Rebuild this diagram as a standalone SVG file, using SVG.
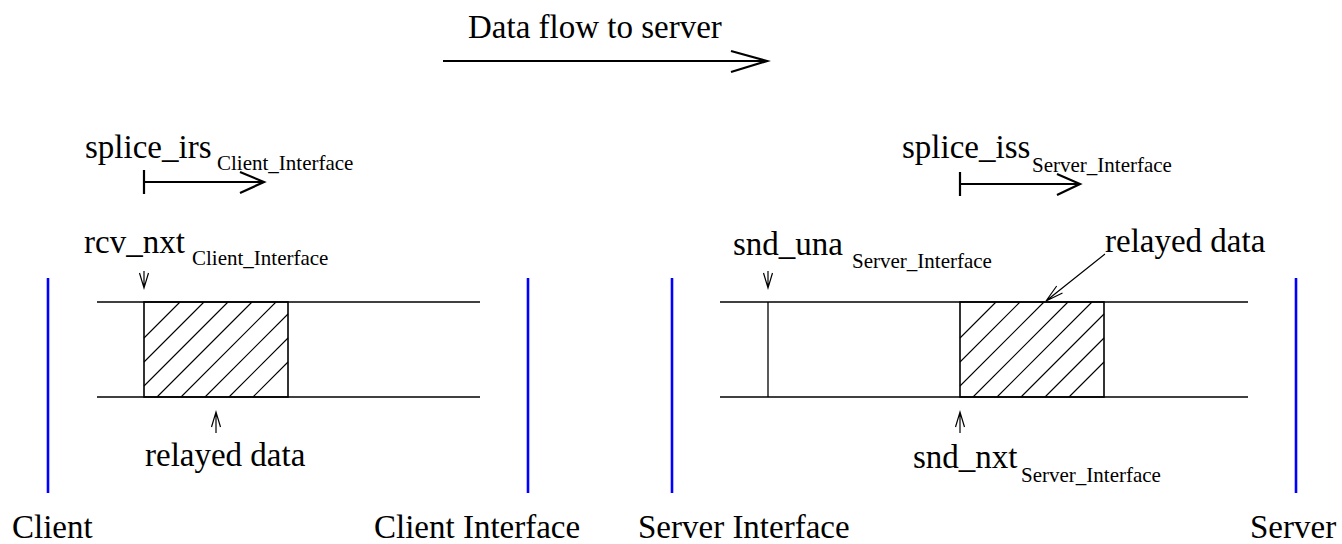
<svg xmlns="http://www.w3.org/2000/svg" width="1342" height="544" viewBox="0 0 1342 544">
  <style>
    text { font-family: "Liberation Serif", "DejaVu Serif", serif; fill: #000; }
    .big { font-size: 33px; }
    .sub { font-size: 21px; }
    .wire { stroke: #000; stroke-width: 1.3; fill: none; }
    .hatch { stroke: #000; stroke-width: 1.1; fill: none; }
    .box { stroke: #000; stroke-width: 1.6; fill: none; }
    .arrow { stroke: #000; stroke-width: 2.2; fill: none; }
    .tick { stroke: #000; stroke-width: 1.2; fill: none; }
    .host { stroke: #0000ff; stroke-width: 2.6; }
  </style>

  <rect width="1342" height="544" fill="#fff"/>

  <!-- title arrow -->
  <g id="flow">
    <text class="big" x="468" y="38">Data flow to server</text>
    <path class="arrow" d="M443,61 H767 M731,51 L767,61 L731,72"/>
  </g>

  <!-- endpoint columns -->
  <g id="client">
    <line class="host" x1="48" y1="278" x2="48" y2="493"/>
    <text class="big" x="12" y="538">Client</text>
  </g>
  <g id="client-interface">
    <line class="host" x1="528" y1="278" x2="528" y2="493"/>
    <text class="big" x="374" y="538">Client Interface</text>
  </g>
  <g id="server-interface">
    <line class="host" x1="672" y1="278" x2="672" y2="493"/>
    <text class="big" x="638" y="538">Server Interface</text>
  </g>
  <g id="server">
    <line class="host" x1="1296" y1="278" x2="1296" y2="493"/>
    <text class="big" x="1250" y="538">Server</text>
  </g>

  <!-- receive buffer on the client side -->
  <g id="client-buffer">
    <line class="wire" x1="97" y1="302" x2="480" y2="302"/>
    <line class="wire" x1="97" y1="397" x2="480" y2="397"/>
    <path class="hatch" d="M144,338 L180,302 M144,362 L204,302 M144,386 L228,302 M157,397 L252,302 M181,397 L276,302 M205,397 L288,314 M229,397 L288,338 M253,397 L288,362"/>
    <rect class="box" x="144" y="302" width="144" height="95"/>
  </g>

  <!-- send buffer on the server side -->
  <g id="server-buffer">
    <line class="wire" x1="720" y1="302" x2="1248" y2="302"/>
    <line class="wire" x1="720" y1="397" x2="1248" y2="397"/>
    <line class="wire" x1="768" y1="302" x2="768" y2="397"/>
    <path class="hatch" d="M960,338 L996,302 M960,362 L1020,302 M960,386 L1044,302 M973,397 L1068,302 M997,397 L1092,302 M1021,397 L1104,314 M1045,397 L1104,338 M1069,397 L1104,362"/>
    <rect class="box" x="960" y="302" width="144" height="95"/>
  </g>

  <!-- sequence labels -->
  <g id="splice-irs">
    <text class="big" x="85" y="158">splice_irs</text>
    <text class="sub" x="217" y="170">Client_Interface</text>
  </g>
  <g id="rcv-nxt">
    <text class="big" x="84" y="253">rcv_nxt</text>
    <text class="sub" x="192" y="265">Client_Interface</text>
  </g>
  <g id="relayed-left">
    <text class="big" x="145" y="466">relayed data</text>
  </g>
  <g id="splice-iss">
    <text class="big" x="902" y="158">splice_iss</text>
    <text class="sub" x="1032" y="172">Server_Interface</text>
  </g>
  <g id="snd-una">
    <text class="big" x="733" y="255">snd_una</text>
    <text class="sub" x="852" y="268">Server_Interface</text>
  </g>
  <g id="relayed-right">
    <text class="big" x="1105" y="252">relayed data</text>
  </g>
  <g id="snd-nxt">
    <text class="big" x="913" y="468">snd_nxt</text>
    <text class="sub" x="1021" y="482">Server_Interface</text>
  </g>

  <!-- pointers -->
  <g id="connectors">
    <path class="arrow" d="M144,170 V194 M144,182 H264 M240,172 L264,182 L240,193"/>
    <path class="arrow" d="M960,172 V196 M960,184 H1080 M1057,174 L1080,184 L1057,195"/>
    <path class="tick" d="M144,271 V288 M139.5,273 L144,288 L148.5,273"/>
    <path class="tick" d="M768,271 V288 M763.5,273 L768,288 L772.5,273"/>
    <path class="tick" d="M216,433 V412 M211.5,427 L216,412 L220.5,427"/>
    <path class="tick" d="M960,433 V412 M955.5,427 L960,412 L964.5,427"/>
    <path class="tick" d="M1105,254 L1046,301 M1062.5,293 L1046,301 L1056.7,286"/>
  </g>
</svg>
